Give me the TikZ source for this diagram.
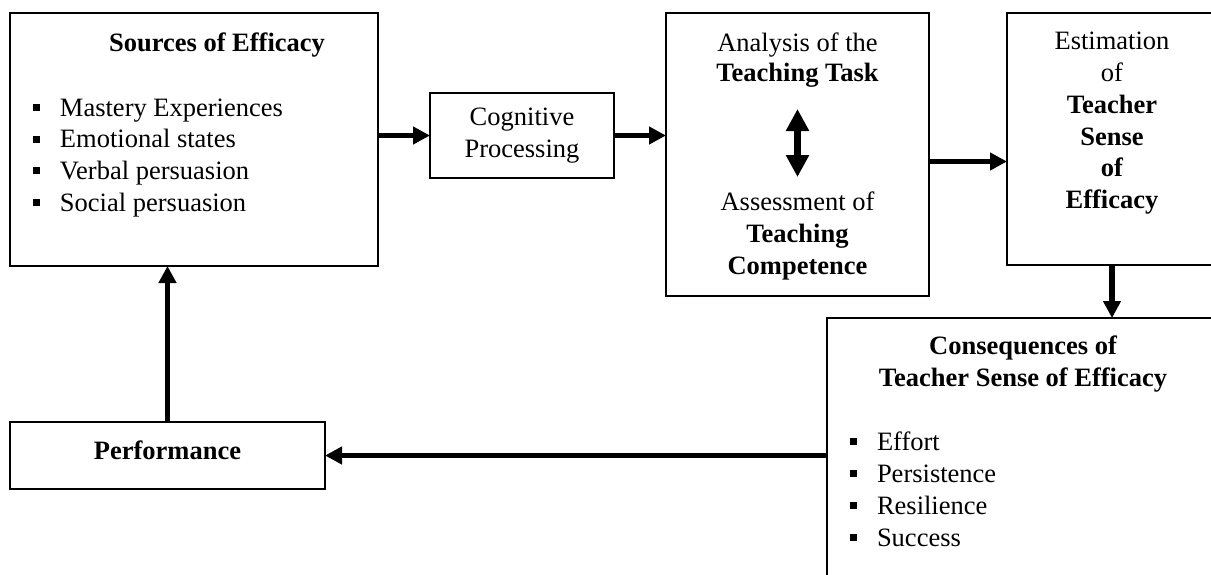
\documentclass[tikz,border=0pt]{standalone}
\usepackage{fontspec}
\setmainfont{Liberation Serif}
\usetikzlibrary{arrows.meta,calc}
\newcommand\sqbul{\rule[5pt]{7pt}{7pt}\hspace{20.5pt}}
\begin{document}
\begin{tikzpicture}[x=1pt,y=-1pt,
  box/.style={draw, line width=1.6pt, inner sep=0pt, outer sep=0pt, anchor=north west},
  txt/.style={inner sep=0pt, outer sep=0pt, font=\fontsize{26.5}{32}\selectfont},
  ln/.style={txt, anchor=base},
  bul/.style={txt, anchor=base west},
  arr/.style={line width=5.5pt, -{Triangle[length=17pt,width=17pt]}},
  dbl/.style={line width=7pt, {Triangle[length=22pt,width=22pt]}-{Triangle[length=22pt,width=22pt]}}
]
\useasboundingbox (0,0) rectangle (1211,574);
\clip (0,0) rectangle (1211,574);

% boxes
\node[box, minimum width=368pt, minimum height=253pt] (src) at (10,13) {};
\node[box, txt, anchor=north west, align=center, minimum width=184pt, minimum height=85pt] (cog) at (430,93) {Cognitive\\Processing};
\node[box, minimum width=263pt, minimum height=283pt] (ana) at (666,13) {};
\node[box, minimum width=210pt, minimum height=252pt] (est) at (1007,13) {};
\node[box, minimum width=420pt, minimum height=300pt] (con) at (827,318) {};
\node[box, minimum width=315pt, minimum height=67pt] (perf) at (10,422) {};

% Sources of Efficacy
\node[ln] (srct) at (217,51.5) {\bfseries Sources of Efficacy};
\foreach \t [count=\i] in {Mastery Experiences, Emotional states, Verbal persuasion, Social persuasion}
  \node[bul] (s\i) at (32.5,{84.3+31.7*\i}) {\sqbul\t};

% Analysis / Assessment
\node[ln] (an1) at (797.5,51.2) {Analysis of the};
\node[ln] (an2) at (797.5,81.7) {\bfseries Teaching Task};
\node[ln] (an3) at (797.5,210.2) {Assessment of};
\node[ln] (an4) at (797.5,242.2) {\bfseries Teaching};
\node[ln] (an5) at (797.5,274.2) {\bfseries Competence};
\coordinate (d1) at (797.5,109);
\coordinate (d2) at (797.5,177);
\draw[dbl] (d1) -- (d2);

% Estimation
\foreach \t [count=\i] in {Estimation, of, \textbf{Teacher}, \textbf{Sense}, \textbf{of}, \textbf{Efficacy}}
  \node[ln] (es\i) at (1112,{17.95+31.8*\i}) {\t};

% Consequences
\node[ln] (co1) at (1023,354.5) {\bfseries Consequences of};
\node[ln] (co2) at (1023,386.3) {\bfseries Teacher Sense of Efficacy};
\foreach \t [count=\i] in {Effort, Persistence, Resilience, Success}
  \node[bul] (c\i) at (849.5,{418+32*\i}) {\sqbul\t};

% Performance
\node[ln] (pft) at (167.5,459) {\bfseries Performance};

% connectors
\coordinate (a1) at ([yshift=-7pt]ana.east);
\draw[arr] (src.east |- cog.west) -- (cog.west);
\draw[arr] (cog.east) -- (cog.east -| ana.west);
\draw[arr] (a1) -- (a1 -| est.west);
\draw[arr] (est.south) -- (est.south |- con.north);
\draw[arr] (con.west |- perf.east) -- (perf.east);
\draw[arr] (perf.north) -- (perf.north |- src.south);
\end{tikzpicture}
\end{document}
